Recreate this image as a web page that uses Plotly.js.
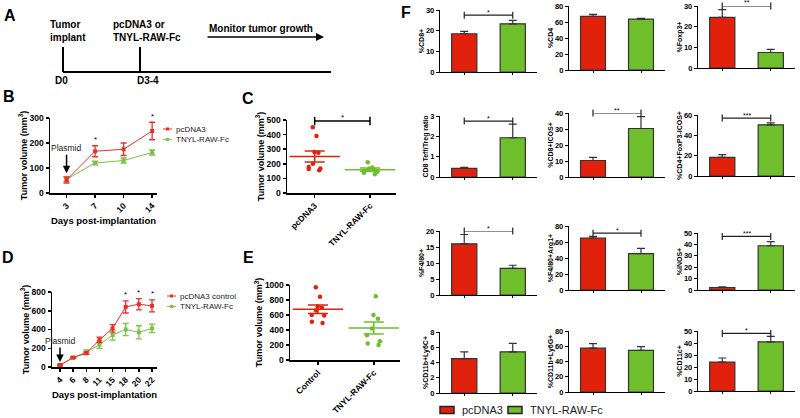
<!DOCTYPE html>
<html><head><meta charset="utf-8">
<script src="https://cdn.plot.ly/plotly-3.0.1.min.js"></script>
<style>html,body{margin:0;padding:0;background:#fff}#chart{width:800px;height:418px}</style>
</head><body><div id="chart"></div>
<script>
// ---------------- data ----------------
const bDays = ['3','7','10','14'];
const bPcdna = [52,167,175,248];
const bPcdnaErr = [12,22,25,35];
const bTnyl = [55,120,130,162];
const bTnylErr = [8,7,10,10];
const bSig = ['','*','','*'];
const bNames = ['pcDNA3','TNYL-RAW-Fc'];

const cGroups = ['pcDNA3','TNYL-RAW-Fc'];
const cPcdna = [450,390,280,275,200,168,165,155,178];
const cTnyl = [210,175,168,162,158,152,145,138,128];
const cMean = [250,160];
const cSem = [37,11];
const cSig = '*';
const cSigLevel = 493;

const dDays = ['4','6','8','11','15','18','20','22'];
const dCtrl = [22,100,148,289,412,641,670,652];
const dCtrlErr = [8,8,12,30,40,65,60,65];
const dTnyl = [15,100,158,238,342,400,370,412];
const dTnylErr = [8,8,25,40,55,65,70,45];
const dSig = ['','','','','','*','*','*'];
const dNames = ['pcDNA3 control','TNYL-RAW-Fc'];

const eGroups = ['Control','TNYL-RAW-Fc'];
const eCtrl = [970,845,715,700,660,600,595,510,495];
const eTnyl = [850,600,550,420,330,250,220,200];
const eMean = [677,427];
const eSem = [58,80];
const eSig = '*';
const eSigLevel = 1065;

const fGroups = ['pcDNA3','TNYL-RAW-Fc'];
const fTitles = ['%CD8+','%CD4','%Foxp3+','CD8 Teff/Treg ratio','%CD8+ICOS+','%CD4+FoxP3-ICOS+',
                 '%F4/80+','%F4/80+Arg1+','%iNOS+','%CD11b+Ly6C+','%CD11b+Ly6G+','%CD11c+'];
const fPcdna    = [18.5, 67, 24.5, 0.42, 10.3, 18.3, 16, 65, 2.2, 4.5, 57.5, 24];
const fPcdnaErr = [1.2, 2.5, 3.7, 0.05, 2.0, 2.7, 2.9, 2.0, 0.6, 0.9, 6.0, 3.5];
const fTnyl     = [23.3, 63.5, 7.5, 1.93, 30.3, 50.3, 8.3, 45.5, 38.8, 5.4, 54.5, 41];
const fTnylErr  = [1.7, 1.0, 1.5, 0.67, 7.4, 2.0, 1.0, 6.5, 3.7, 1.1, 5.0, 4.5];
const fSig      = ['*','','**','*','**','***','*','*','***','','','*'];
const fSigLevel = [27.5,null,30,2.75,40,57,20,71,47,null,null,48];
const fYMax     = [30,80,30,3,40,60,20,80,50,8,80,50];
const fDtick    = [10,20,10,1,10,20,5,20,10,2,20,10];
const legendNames = ['pcDNA3','TNYL-RAW-Fc'];

// ---------------- styles / layout ----------------
const FONT = 'Liberation Sans, Arial, sans-serif';
const RED = '#e2210c', GREEN = '#6fbe2c', LRED = '#e8302a', LGREEN = '#7cc243';
const W = 800, H = 418;
const px = p => p / W, py = p => 1 - p / H;

const traces = [], ann = [], shapes = [];
const layout = {
  width: W, height: H, margin: {l:0, r:0, t:0, b:0},
  paper_bgcolor: '#fff', plot_bgcolor: 'rgba(0,0,0,0)',
  showlegend: false, font: {family: FONT, color: '#000'},
  boxmode: 'overlay', hovermode: false
};

function axes(n, xPx, yPx, xo, yo) {
  const xs = n === 1 ? 'xaxis' : 'xaxis' + n, ys = n === 1 ? 'yaxis' : 'yaxis' + n;
  const xa = n === 1 ? 'x' : 'x' + n, ya = n === 1 ? 'y' : 'y' + n;
  layout[xs] = Object.assign({
    domain: [px(xPx[0]), px(xPx[1])], anchor: ya, type: 'category',
    showline: true, linecolor: '#000', linewidth: 1.5, ticks: 'outside', ticklen: 3,
    tickwidth: 1.5, tickcolor: '#000', showgrid: false, zeroline: false, fixedrange: true,
    tickfont: {family: FONT, size: 8.5, weight: 'bold'}
  }, xo);
  layout[ys] = Object.assign({
    domain: [py(yPx[1]), py(yPx[0])], anchor: xa,
    showline: true, linecolor: '#000', linewidth: 1.5, ticks: 'outside', ticklen: 3,
    tickwidth: 1.5, tickcolor: '#000', showgrid: false, zeroline: false, fixedrange: true,
    tickfont: {family: FONT, size: 8.5, weight: 'bold'}
  }, yo);
  return [xa, ya];
}
const volTitle = () => ({text: 'Tumor volume (mm<sup>3</sup>)', font: {family: FONT, size: 9, weight: 'bold'}, standoff: 0});
const dayTitle = {text: 'Days post-implantation', font: {family: FONT, size: 9.5, weight: 'bold'}, standoff: 0};

// paper-referenced text helper (explicit anchors)
const ptext = (x, y, t, font, xanchor) => ann.push({xref:'paper', yref:'paper', x:px(x), y:py(y), text:t, showarrow:false,
  xanchor: xanchor || 'left', yanchor:'middle', align:'left', font:font});

// ---------- Panel A (schematic) ----------
const lineA = (x0,y0,x1,y1) => shapes.push({type:'line', xref:'paper', yref:'paper', x0:px(x0), y0:py(y0), x1:px(x1), y1:py(y1), line:{color:'#000', width:2}});
lineA(63,72,331,72); lineA(63,47,63,72); lineA(140,47,140,72);
const fA = {family:FONT, size:10, weight:'bold'};
ptext(48,31,'Tumor<br>implant', fA);
ptext(111,31,'pcDNA3 or<br>TNYL-RAW-Fc', fA);
ptext(207,29,'Monitor tumor growth', fA);
ptext(53,80,'D0', fA);
ptext(135,81,'D3-4', fA);
ann.push({xref:'paper', yref:'paper', x:px(324), y:py(37), ax:-118, ay:0, text:'', showarrow:true, arrowhead:2, arrowsize:1, arrowwidth:1.6, arrowcolor:'#000'});

// panel letters
[['A',10,15],['B',9,97],['C',248,98],['D',8,257],['E',248,257],['F',406,12]].forEach(([t,x,y]) =>
  ptext(x, y, t, {family:FONT, size:16, weight:'bold'}, 'center'));

// ---------- Panel B ----------
(function(){
  const [xa, ya] = axes(1, [50,157], [118,193],
    {range:[-0.58,3.17], tickangle:-45, title: dayTitle},
    {range:[0,300], dtick:100, title: volTitle()});
  [[bTnyl,bTnylErr,LGREEN],[bPcdna,bPcdnaErr,LRED]].forEach(([y,e,c],k) => traces.push({
    type:'scatter', x:bDays, y:y, mode:'lines+markers', name:bNames[1-k], xaxis:xa, yaxis:ya, cliponaxis:false,
    line:{color:c, width:1}, marker:{symbol:'square', size:4, color:c},
    error_y:{type:'data', array:e, color:c, thickness:1.3, width:3}}));
  bSig.forEach((s,i) => { if (s) ann.push({xref:xa, yref:ya, x:i, y:bPcdna[i]+bPcdnaErr[i], yshift:6, text:s, showarrow:false, yanchor:'middle', font:{size:8}}); });
  ann.push({xref:xa, yref:ya, x:0, y:bTnyl[0]+bTnylErr[0], text:'Plasmid', showarrow:true, ax:0, ay:-29, standoff:4,
    arrowhead:2, arrowsize:1, arrowwidth:1.5, arrowcolor:'#000', font:{family:FONT, size:8.5, color:'#222'}});
})();

// ---------- Panel D ----------
(function(){
  const [xa, ya] = axes(3, [52,157], [292,367],
    {range:[-0.61,7.38], tickangle:-45, title: dayTitle},
    {range:[0,800], dtick:200, title: volTitle()});
  [[dTnyl,dTnylErr,LGREEN],[dCtrl,dCtrlErr,LRED]].forEach(([y,e,c],k) => traces.push({
    type:'scatter', x:dDays, y:y, mode:'lines+markers', name:dNames[1-k], xaxis:xa, yaxis:ya, cliponaxis:false,
    line:{color:c, width:1}, marker:{symbol:'square', size:4, color:c},
    error_y:{type:'data', array:e, color:c, thickness:1.3, width:3}}));
  dSig.forEach((s,i) => { if (s) ann.push({xref:xa, yref:ya, x:i, y:dCtrl[i]+dCtrlErr[i], yshift:6, text:s, showarrow:false, yanchor:'middle', font:{size:8}}); });
  ann.push({xref:xa, yref:ya, x:0, y:dCtrl[0], text:'Plasmid', showarrow:true, ax:0, ay:-24, standoff:3,
    arrowhead:2, arrowsize:1, arrowwidth:1.5, arrowcolor:'#000', font:{family:FONT, size:8.5, color:'#222'}});
})();

// custom legends for B and D (one text block per legend)
function lineLegend(names, x0, y0) {
  const step = 10.4;
  [LRED, LGREEN].forEach((c,k) => {
    const y = y0 + k*step;
    shapes.push({type:'line', xref:'paper', yref:'paper', x0:px(x0), x1:px(x0+9), y0:py(y), y1:py(y), line:{color:c, width:1}});
    shapes.push({type:'rect', xref:'paper', yref:'paper', x0:px(x0+3), x1:px(x0+6), y0:py(y-1.5), y1:py(y+1.5), line:{width:0}, fillcolor:c});
  });
  ptext(x0+11, y0+step/2, names.join('<br>'), {family:FONT, size:8, color:'#222'});
}
lineLegend(bNames, 163, 129);
lineLegend(dNames, 167, 296);

// ---------- Panels C and E (scatter with mean ± SEM) ----------
function dotPanel(n, xPx, yPx, groups, vals, mean, sem, ymax, dtick, sig, sigLevel) {
  const [xa, ya] = axes(n, xPx, yPx,
    {range:[-0.5,1.47], tickangle:-45, categoryorder:'array', categoryarray:groups},
    {range:[0,ymax], dtick:dtick, title: volTitle()});
  [RED, GREEN].forEach((c,k) => {
    traces.push({type:'box', x:vals[k].map(() => groups[k]), y:vals[k], xaxis:xa, yaxis:ya,
      boxpoints:'all', jitter:0.75, pointpos:0, width:0.45, line:{width:0}, fillcolor:'rgba(0,0,0,0)',
      marker:{size:4.5, color:c}});
    traces.push({type:'scatter', x:[groups[k]], y:[mean[k]], mode:'markers', xaxis:xa, yaxis:ya, cliponaxis:false,
      marker:{symbol:'line-ew', size:36, color:c, line:{color:c, width:1.5}},
      error_y:{type:'data', array:[sem[k]], color:c, thickness:1.5, width:10}});
  });
  traces.push({type:'scatter', x:groups, y:[sigLevel,sigLevel], mode:'lines+markers', xaxis:xa, yaxis:ya, cliponaxis:false,
    line:{color:'#000', width:1.5}, marker:{symbol:'line-ns', size:6, line:{color:'#000', width:1.5}}});
  ann.push({xref:xa, yref:ya, x:0.5, y:sigLevel, text:sig, showarrow:false, yanchor:'middle', yshift:4, font:{size:8}});
}
dotPanel(2, [287,396], [120,193], cGroups, [cPcdna, cTnyl], cMean, cSem, 500, 100, cSig, cSigLevel);
dotPanel(4, [290,400], [285,360], eGroups, [eCtrl, eTnyl], eMean, eSem, 1000, 200, eSig, eSigLevel);

// ---------- Panel F (bar grid) ----------
const colX = [[440,537],[569,665],[698,795]];
const rowY = [[10,72],[6,70],[6,68],[116,177],[113,177],[115,176],[231,295],[226,290],[233,290],[332,393],[331,392],[331,391]];
fTitles.forEach((t,i) => {
  const n = 5 + i;
  const [xa, ya] = axes(n, colX[i%3], rowY[i],
    {range:[-0.5,1.5], showticklabels:false, ticklen:2, linewidth:1.2, tickwidth:1, categoryorder:'array', categoryarray:fGroups},
    {range:[0,fYMax[i]], dtick:fDtick[i], ticklen:3, linewidth:1.2, tickwidth:1,
     tickfont:{family:FONT, size:7.5, weight:'bold'},
     title:{text:t, font:{family:FONT, size:7, weight:'bold'}, standoff:0}});
  traces.push({type:'bar', x:fGroups, y:[fPcdna[i], fTnyl[i]], xaxis:xa, yaxis:ya, width:0.52, cliponaxis:false,
    marker:{color:[RED, GREEN], line:{color:'#333', width:1.2}},
    error_y:{type:'data', symmetric:false, array:[fPcdnaErr[i], fTnylErr[i]], arrayminus:[0,0], color:'#333', thickness:1.2, width:4}});
  if (fSig[i]) {
    traces.push({type:'scatter', x:fGroups, y:[fSigLevel[i], fSigLevel[i]], mode:'lines+markers', xaxis:xa, yaxis:ya, cliponaxis:false,
      line:{color:'#222', width:1.2}, marker:{symbol:'line-ns', size:5, line:{color:'#222', width:1.2}}});
    ann.push({xref:xa, yref:ya, x:0.5, y:fSigLevel[i], text:fSig[i], showarrow:false, yanchor:'middle', yshift:3, font:{size:7}});
  }
});
// F legend
[[RED,440,460],[GREEN,508,528]].forEach(([c,x0,tx],k) => {
  shapes.push({type:'rect', xref:'paper', yref:'paper', x0:px(x0), x1:px(x0+14), y0:py(413.5), y1:py(406.5), fillcolor:c, line:{color:'#222', width:1.5}});
  ptext(tx, 410, legendNames[k], {family:FONT, size:11, color:'#222'});
});

layout.shapes = shapes;
layout.annotations = ann;
Plotly.newPlot('chart', traces, layout, {staticPlot:true, displayModeBar:false});
</script></body></html>
